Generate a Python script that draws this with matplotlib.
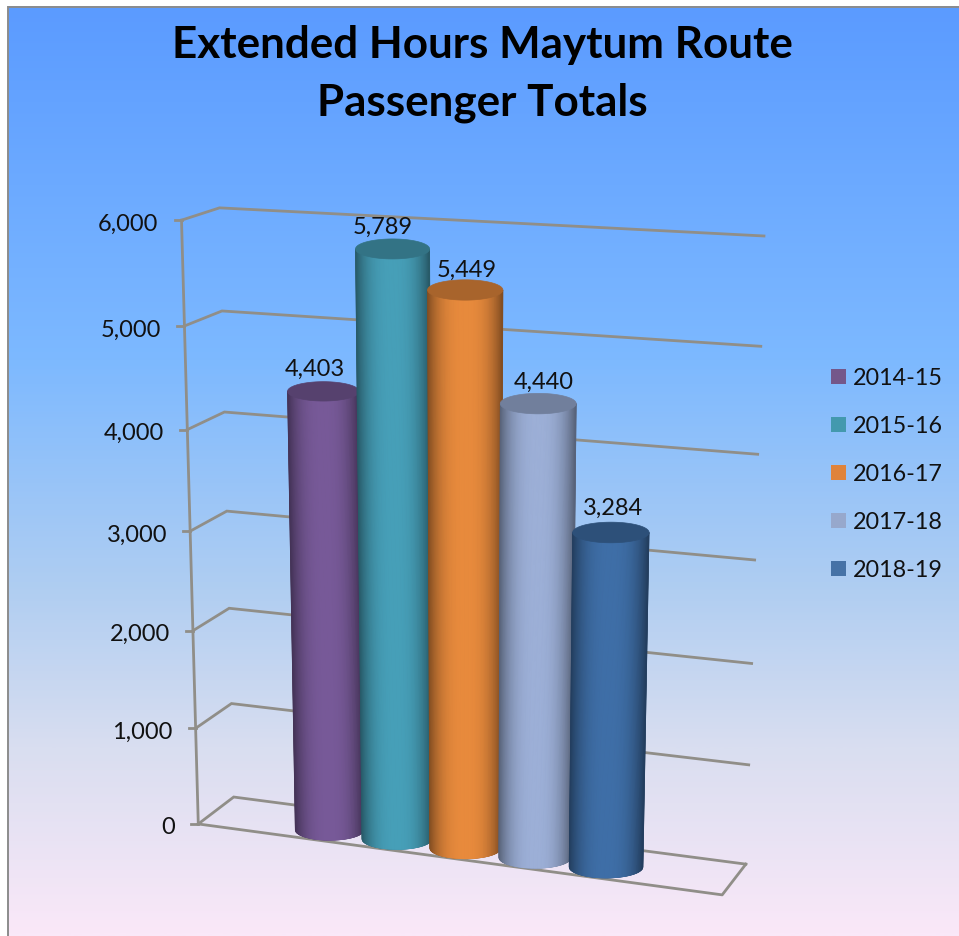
import numpy as np
import matplotlib
matplotlib.use("Agg")
import matplotlib.pyplot as plt
from matplotlib.collections import PolyCollection
from matplotlib.colors import LinearSegmentedColormap, to_rgb
from matplotlib.patches import Polygon, Rectangle

# ---- data ----
seasons = ["2014-15", "2015-16", "2016-17", "2017-18", "2018-19"]
passengers = [4403, 5789, 5449, 4440, 3284]
bar_colors = ["#785A99", "#47A0B9", "#E98B3D", "#9DB0D8", "#3F6FA8"]
legend_colors = ["#74578A", "#4399AE", "#DF833B", "#97A8CC", "#4672A6"]
y_ticks = [0, 1000, 2000, 3000, 4000, 5000, 6000]
title_lines = ["Extended Hours Maytum Route", "Passenger Totals"]

W, H = 959, 937
plt.rcParams["font.family"] = ["Lato", "DejaVu Sans"]
fig = plt.figure(figsize=(W / 100, H / 100), dpi=100, facecolor="white")
ax = fig.add_axes([0, 0, 1, 1])
ax.axis("off")

# ---- background ----
bg = LinearSegmentedColormap.from_list("bg", [
    (0.00, "#5B9BFF"), (0.38, "#7DB9FF"), (0.62, "#AECDF2"),
    (0.80, "#D9DEF0"), (1.00, "#FAE8F8")])
ax.imshow(np.linspace(0, 1, 400)[:, None], cmap=bg, aspect="auto",
          extent=[8, W, H, 7], zorder=0)
ax.set_xlim(0, W)
ax.set_ylim(H, 0)
ax.plot([8, 8, W], [H, 7.5, 7.5], color="#8C8C8C", lw=1.4, zorder=1, solid_joinstyle="miter")

# ---- projection: chart space (along, depth, value/6000) -> picture ----
world = np.array([(0, 0, 0), (0, 1, 0), (1, 1, 0), (1, 0, 0),
                  (0, 0, 1), (0, 1, 1), (1, 1, 1)], float)
image = np.array([(198, 825), (234, 798), (746, 865), (722, 896),
                  (182, 221), (219, 209), (764, 237)], float)
A, b = [], []
for (x, y, z), (px, py) in zip(world, image):
    A.append([x, y, z, 1, 0, 0, 0, 0, -px * x, -px * y, -px * z])
    b.append(px)
    A.append([0, 0, 0, 0, x, y, z, 1, -py * x, -py * y, -py * z])
    b.append(py)
P = np.append(np.linalg.lstsq(np.array(A), np.array(b), rcond=None)[0], 1).reshape(3, 4)


def project(u, d, value):
    q = P @ np.array([u, d, value / y_ticks[-1], 1.0])
    return q[0] / q[2], q[1] / q[2]


GRID = "#908E88"
for v in y_ticks[::-1]:
    pts = [project(0, 0, v), project(0, 1, v), project(1, 1, v)]
    ax.plot(*zip(*pts), color=GRID, lw=2, zorder=2, solid_joinstyle="miter")
    x0, y0 = project(0, 0, v)
    ax.plot([x0 - 7, x0], [y0, y0], color=GRID, lw=2, zorder=2)
    ax.text(x0 - 23, y0 + 3, f"{v:,}", ha="right", va="center", fontsize=17, color="#111111", zorder=6)
ax.plot(*zip(project(0, 0, 0), project(0, 0, y_ticks[-1])), color=GRID, lw=2, zorder=2)
ax.plot(*zip(project(0, 0, 0), project(1, 0, 0), project(1, 1, 0)), color=GRID, lw=2, zorder=2)


# ---- cylinders ----
def shade(base, t):
    """t in [-1, 1] across the visible face: dark at the rims."""
    rgb = np.array(to_rgb(base))
    return tuple(rgb * (1 - 0.45 * np.abs(t) ** 2.6))


U0, DU, RU, DEPTH = 0.24, 0.133, 0.0685, 0.36
label_dx = [-9, -10, 2, 6, 2]
label_dy = [-23, -23, -21, -22, -25]
for i, (v, col) in enumerate(zip(passengers, bar_colors)):
    u = U0 + DU * i
    bx, by = project(u, DEPTH, 0)
    tx, ty = project(u, DEPTH, v)
    rb = (project(u + RU, DEPTH, 0)[0] - project(u - RU, DEPTH, 0)[0]) / 2
    rt = (project(u + RU, DEPTH, v)[0] - project(u - RU, DEPTH, v)[0]) / 2
    kb, kt = 0.30 * rb, 0.27 * rt
    z = 3 + i * 0.1
    th = np.linspace(np.pi, 0, 121)
    outline = np.r_[np.c_[bx + rb * np.cos(th), by + kb * np.sin(th)],
                    np.c_[tx + rt * np.cos(th[::-1]), ty + kt * np.sin(th[::-1])]]
    ax.add_patch(Polygon(outline, closed=True, facecolor=shade(col, 1.0), edgecolor=shade(col, 1.0),
                         lw=0.4, zorder=z))
    ts = np.linspace(-1, 1, 91)
    polys, cols = [], []
    for t0, t1 in zip(ts[:-1], ts[1:]):
        s0, s1 = np.sqrt(1 - t0 ** 2), np.sqrt(1 - t1 ** 2)
        polys.append([(bx + rb * t0, by + kb * s0), (bx + rb * t1, by + kb * s1),
                      (tx + rt * t1, ty + kt * s1), (tx + rt * t0, ty + kt * s0)])
        cols.append(shade(col, (t0 + t1) / 2))
    ax.add_collection(PolyCollection(polys, facecolors=cols, edgecolors=cols, linewidths=0.5,
                                     zorder=z + 0.01))
    a = np.linspace(0, 2 * np.pi, 120)
    top_col = tuple(np.array(to_rgb(col)) * 0.72)
    ax.add_patch(Polygon(np.c_[tx + rt * np.cos(a), ty + kt * np.sin(a)], closed=True,
                         facecolor=top_col, edgecolor=top_col, lw=0.5, zorder=z + 0.02))
    ax.text(tx + label_dx[i], ty + label_dy[i], f"{v:,}", ha="center", va="center",
            fontsize=17, color="#111111", zorder=6)

# ---- legend ----
for i, (s, c) in enumerate(zip(seasons, legend_colors)):
    y = 377 + 48 * i
    ax.add_patch(Rectangle((831, y - 7.5), 15, 15, facecolor=c, edgecolor="none", zorder=6))
    ax.text(853, y + 1.5, s, ha="left", va="center", fontsize=16.8, color="#111111", zorder=6)

# ---- title ----
ax.text(482, 45, title_lines[0], ha="center", va="center", fontsize=31.7, fontweight="bold", color="black", zorder=6)
ax.text(482, 103, title_lines[1], ha="center", va="center", fontsize=31.7, fontweight="bold", color="black", zorder=6)

fig.savefig("out.png", dpi=100, facecolor="white")
